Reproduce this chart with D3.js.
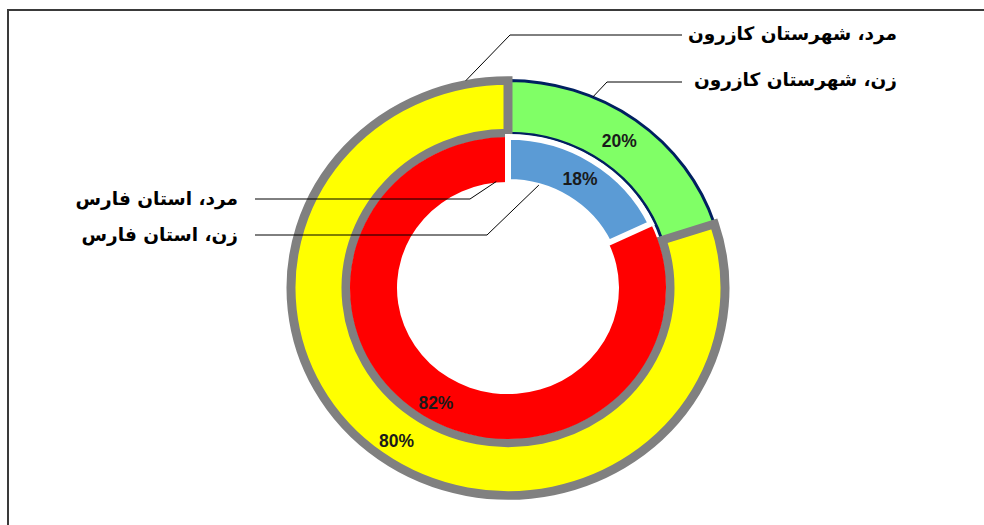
<!DOCTYPE html>
<html>
<head>
<meta charset="utf-8">
<script src="https://cdn.jsdelivr.net/npm/d3@7"></script>
<style>
  body { margin: 0; background: #fff; }
  svg { display: block; }
</style>
</head>
<body>
<svg width="984" height="525"></svg>
<script>
// داده‌ها
const outerNames = ["زن، شهرستان کازرون", "مرد، شهرستان کازرون"];
const outerValues = [20, 80];
const innerNames = ["زن، استان فارس", "مرد، استان فارس"];
const innerValues = [18, 82];

const outerColors = ["#80ff66", "#ffff00"];
const outerStrokes = ["#002060", "#808080"];
const outerStrokeW = [3, 9];
const innerColors = ["#5b9bd5", "#ff0000"];

const svg = d3.select("svg");
const cx = 508, cy = 288, squash = 0.956;

// frame
svg.append("rect")
    .attr("x", 8).attr("y", 10)
    .attr("width", 1100).attr("height", 700)
    .attr("fill", "none")
    .attr("stroke", "#3a3a3a")
    .attr("stroke-width", 2);

const pie = d3.pie().sort(null).value(d => d);
const outerArc = d3.arc().innerRadius(162).outerRadius(217);
const innerArc = d3.arc().innerRadius(111).outerRadius(158);

const g = svg.append("g").attr("transform", `translate(${cx},${cy}) scale(1,${squash})`);

const outerData = pie(outerValues);
const innerData = pie(innerValues);

// outer ring (green first, yellow on top)
g.selectAll(".outer")
    .data(outerData)
    .enter()
    .append("path")
    .attr("class", "outer")
    .attr("d", outerArc)
    .attr("fill", (d, i) => outerColors[i])
    .attr("stroke", (d, i) => outerStrokes[i])
    .attr("stroke-width", (d, i) => outerStrokeW[i])
    .attr("stroke-linejoin", "miter");

// inner ring (red first, blue on top with white edge)
g.selectAll(".inner")
    .data(innerData.slice().reverse())
    .enter()
    .append("path")
    .attr("class", "inner")
    .attr("d", innerArc)
    .attr("fill", d => innerColors[d.index])
    .attr("stroke", d => d.index === 0 ? "#fff" : "none")
    .attr("stroke-width", 6);

// percent labels
const pct = d => d3.format(".0%")(d.value / 100);
const labels = outerData.map(d => ({ d, c: outerArc.centroid(d) }))
    .concat(innerData.map(d => ({ d, c: innerArc.centroid(d) })));

svg.selectAll(".pct")
    .data(labels)
    .enter()
    .append("text")
    .attr("class", "pct")
    .attr("x", l => cx + l.c[0])
    .attr("y", l => cy + l.c[1] * squash + (l.d.index === 1 ? 6 : 0))
    .attr("text-anchor", "middle")
    .attr("dominant-baseline", "central")
    .style("font-family", "'Liberation Sans', Arial, sans-serif")
    .style("font-weight", "bold")
    .style("font-size", "17.5px")
    .style("fill", "#1a1a1a")
    .text(l => pct(l.d));

// point on ring edge (angle in degrees from top, clockwise)
const polar = (deg, r) => {
    const a = deg * Math.PI / 180;
    return [cx + r * Math.sin(a), cy - r * Math.cos(a) * squash];
};

// leader labels: name, text x (right edge), text y, line start x, elbow, arc angle, radius
const leaders = [
    { name: outerNames[1], tx: 897, ty: 33, lx: 682, ex: 510, ey: 35, ang: 349, r: 221 },
    { name: outerNames[0], tx: 897, ty: 79, lx: 682, ex: 607, ey: 82, ang: 23, r: 217 },
    { name: innerNames[1], tx: 238, ty: 198, lx: 255, ex: 470, ey: 199, ang: -6, r: 112 },
    { name: innerNames[0], tx: 238, ty: 234, lx: 255, ex: 487, ey: 235, ang: 16, r: 112 }
];

const line = d3.line();
svg.selectAll(".leader")
    .data(leaders)
    .enter()
    .append("path")
    .attr("class", "leader")
    .attr("d", l => line([[l.lx, l.ey], [l.ex, l.ey], polar(l.ang, l.r)]))
    .attr("fill", "none")
    .attr("stroke", "#000")
    .attr("stroke-width", 1);

svg.selectAll(".name")
    .data(leaders)
    .enter()
    .append("text")
    .attr("class", "name")
    .attr("x", l => l.tx)
    .attr("y", l => l.ty)
    .attr("direction", "rtl")
    .attr("text-anchor", "start")
    .attr("dominant-baseline", "central")
    .style("font-family", "'DejaVu Sans', sans-serif")
    .style("font-weight", "bold")
    .style("font-size", "18.5px")
    .style("fill", "#000")
    .text(l => l.name);
</script>
</body>
</html>
